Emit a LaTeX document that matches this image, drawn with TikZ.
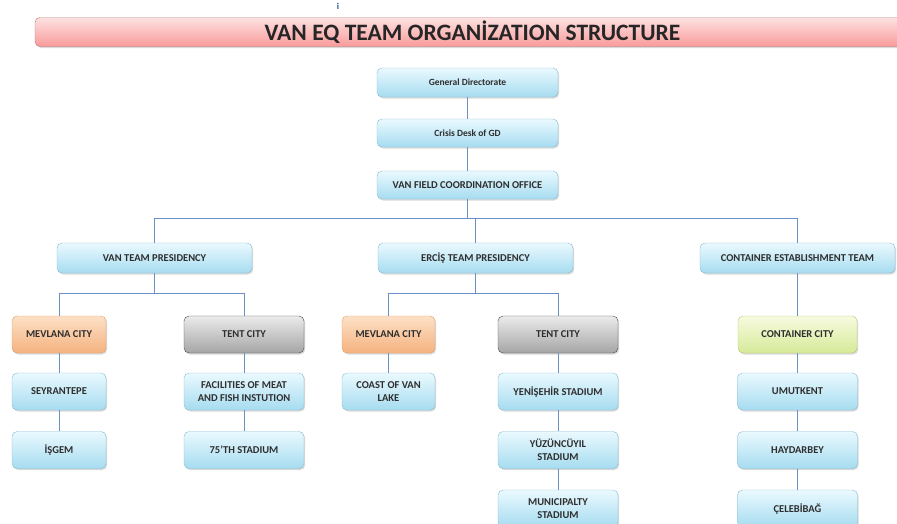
\documentclass[tikz,border=0pt]{standalone}
\usepackage{fontspec}
\setmainfont{Carlito}
\usetikzlibrary{shadows}

\definecolor{bluetop}{HTML}{EAF9FE}
\definecolor{bluebot}{HTML}{A6DCF0}
\definecolor{blueline}{HTML}{86BBD2}
\definecolor{orangetop}{HTML}{FDE0C6}
\definecolor{orangebot}{HTML}{F5B27F}
\definecolor{orangeline}{HTML}{DDA06E}
\definecolor{graytop}{HTML}{EBEBEB}
\definecolor{graybot}{HTML}{A5A5A5}
\definecolor{grayline}{HTML}{4A4A4A}
\definecolor{greentop}{HTML}{F7FBE0}
\definecolor{greenbot}{HTML}{D6EA98}
\definecolor{greenline}{HTML}{B5CA6C}
\definecolor{pinktop}{HTML}{FDE2E2}
\definecolor{pinkbot}{HTML}{FA9A9A}
\definecolor{pinkline}{HTML}{B57A78}
\definecolor{linkblue}{HTML}{6B90C4}
\definecolor{markblue}{HTML}{1F4E8C}
\definecolor{boxtext}{HTML}{2E2E2E}

\begin{document}
\begin{tikzpicture}[x=1pt,y=-1pt]
		\tikzstyle{unit}=[rounded corners=5pt,draw=blueline,top color=bluetop,bottom color=bluebot,
			inner sep=0,align=center,text=boxtext,font=\fontsize{10.5}{13.5}\selectfont\bfseries,
			drop shadow={opacity=0.3,shadow xshift=1.2pt,shadow yshift=-1.5pt}]
		\tikzstyle{mixed}=[font=\fontsize{9.5}{12}\selectfont\bfseries]
		\tikzstyle{mevlana}=[unit,draw=orangeline,top color=orangetop,bottom color=orangebot]
		\tikzstyle{tent}=[unit,draw=grayline,top color=graytop,bottom color=graybot]
		\tikzstyle{container}=[unit,draw=greenline,top color=greentop,bottom color=greenbot]
		\tikzstyle{link}=[draw=linkblue,line width=1pt]

		\useasboundingbox (0,0) rectangle (897,523);
		\clip (0,0) rectangle (897,523);

		\node[text=markblue,font=\fontsize{9}{10}\selectfont\bfseries] (mark) at (338,6.5) {i};
		\node[unit,draw=pinkline,top color=pinktop,bottom color=pinkbot,minimum width=875pt,minimum height=29pt,
			font=\fontsize{23.5}{26}\selectfont\bfseries,text=black!85] (heading) at (472.5,32)
			{VAN EQ TEAM ORGANİZATION STRUCTURE};

		\node[unit,mixed,minimum width=181pt,minimum height=29pt] (gendir) at (467.5,82.5) {General Directorate};
		\node[unit,mixed,minimum width=181pt,minimum height=28pt] (crisis) at (467.5,133) {Crisis Desk of GD};
		\node[unit,minimum width=181pt,minimum height=28pt] (office) at (467.5,185) {VAN FIELD COORDINATION OFFICE};

		\node[unit,minimum width=195pt,minimum height=30pt] (vanpres) at (154.5,258) {VAN TEAM PRESIDENCY};
		\node[unit,minimum width=195pt,minimum height=30pt] (ercpres) at (475.5,258) {ERCİŞ TEAM PRESIDENCY};
		\node[unit,minimum width=195pt,minimum height=30pt] (conteam) at (797.5,258) {CONTAINER ESTABLISHMENT TEAM};

		\node[mevlana,minimum width=94pt,minimum height=37pt] (vanmev) at (59,334.5) {MEVLANA CITY};
		\node[tent,minimum width=120pt,minimum height=37pt] (vantent) at (244,334.5) {TENT CITY};
		\node[mevlana,minimum width=93pt,minimum height=37pt] (ercmev) at (388.5,334.5) {MEVLANA CITY};
		\node[tent,minimum width=120pt,minimum height=37pt] (erctent) at (558,334.5) {TENT CITY};
		\node[container,minimum width=119pt,minimum height=37pt] (concity) at (797.5,334.5) {CONTAINER CITY};

		\node[unit,minimum width=94pt,minimum height=37pt] (seyran) at (59,391.5) {SEYRANTEPE};
		\node[unit,minimum width=94pt,minimum height=37pt] (isgem) at (59,450) {İŞGEM};
		\node[unit,minimum width=120pt,minimum height=37pt] (meat) at (244,391.5) {FACILITIES OF MEAT\\AND FISH INSTUTION};
		\node[unit,minimum width=120pt,minimum height=37pt] (stad75) at (244,450) {75'TH STADIUM};
		\node[unit,minimum width=93pt,minimum height=37pt] (coast) at (388.5,391.5) {COAST OF VAN\\LAKE};
		\node[unit,minimum width=120pt,minimum height=37pt] (yeni) at (558,391.5) {YENİŞEHİR STADIUM};
		\node[unit,minimum width=120pt,minimum height=37pt] (yuzun) at (558,450) {YÜZÜNCÜYIL\\STADIUM};
		\node[unit,minimum width=120pt,minimum height=37pt] (munic) at (558,508.5) {MUNICIPALTY\\STADIUM};
		\node[unit,minimum width=120pt,minimum height=37pt] (umut) at (797.5,391.5) {UMUTKENT};
		\node[unit,minimum width=120pt,minimum height=37pt] (hayd) at (797.5,450) {HAYDARBEY};
		\node[unit,minimum width=120pt,minimum height=37pt] (celebi) at (797.5,508.5) {ÇELEBİBAĞ};

		% straight chains
		\foreach \from/\to in {gendir/crisis,crisis/office,vanmev/seyran,seyran/isgem,vantent/meat,meat/stad75,
				ercmev/coast,erctent/yeni,yeni/yuzun,yuzun/munic,conteam/concity,concity/umut,umut/hayd,hayd/celebi}
			\path[link] (\from.south) -- (\to.north);

		% branches
		\path[link] (office.south) -- ++(0,19) coordinate (hub);
		\path[link] (vanpres.north) |- (hub) -| (conteam.north);
		\path[link] (ercpres.north) -- (ercpres.north |- hub);
		\path[link] (vanpres.south) -- ++(0,20) coordinate (vanfork);
		\path[link] (vanmev.north) |- (vanfork) -| (vantent.north);
		\path[link] (ercpres.south) -- ++(0,20) coordinate (ercfork);
		\path[link] (ercmev.north) |- (ercfork) -| (erctent.north);
	\end{tikzpicture}
\end{document}
